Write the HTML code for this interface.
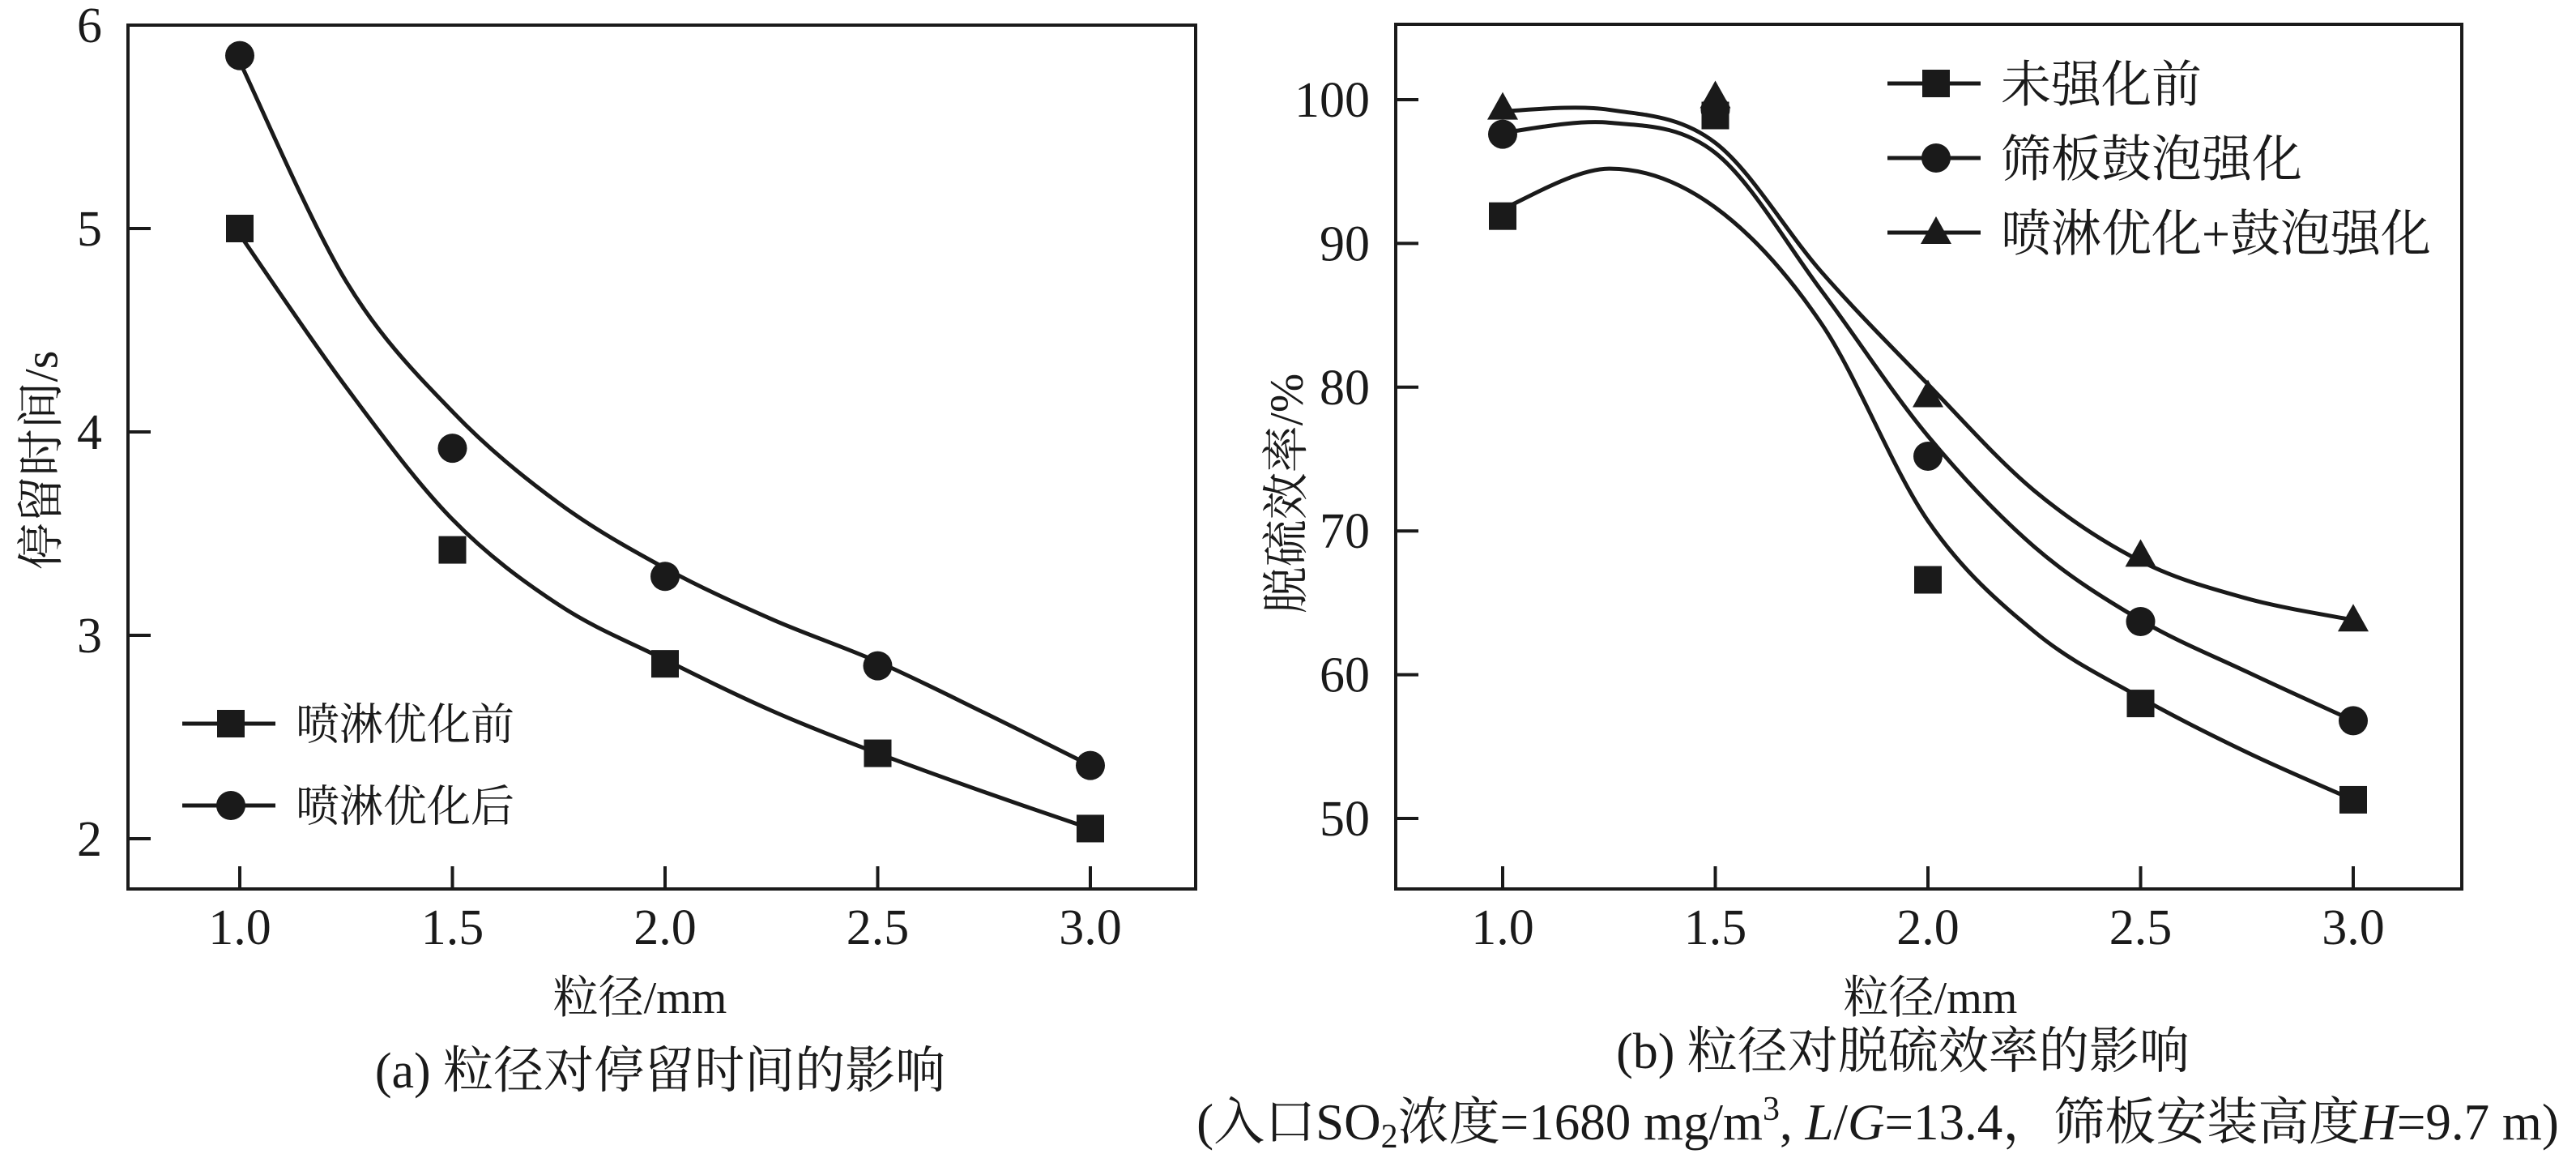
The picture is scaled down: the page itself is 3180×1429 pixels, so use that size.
<!DOCTYPE html>
<html><head><meta charset="utf-8">
<style>
html,body{margin:0;padding:0;background:#fff;}
svg{display:block;}
text{font-family:"Liberation Serif","Noto Serif CJK SC",serif;fill:#1a1a1a;}
</style></head>
<body>
<svg id="fig" width="3180" height="1429" viewBox="0 0 3180 1429" xmlns="http://www.w3.org/2000/svg">
<g id="left"></g>
<g id="right"></g>
<text x="51" y="568" font-size="58" text-anchor="middle" dominant-baseline="central" transform="rotate(-90 51 568)">停留时间/s</text>
<text x="790" y="1250" font-size="56" text-anchor="middle">粒径/mm</text>
<text x="815" y="1342" font-size="62" text-anchor="middle">(a) 粒径对停留时间的影响</text>
<text x="1588" y="609" font-size="58" text-anchor="middle" dominant-baseline="central" transform="rotate(-90 1588 609)">脱硫效率/%</text>
<text x="2383" y="1250" font-size="56" text-anchor="middle">粒径/mm</text>
<text x="2349" y="1318" font-size="62" text-anchor="middle">(b) 粒径对脱硫效率的影响</text>
<text x="2318" y="1406" font-size="63" text-anchor="middle">(入口SO<tspan font-size="42" dy="10">2</tspan><tspan dy="-10">浓度=1680 mg/m</tspan><tspan font-size="42" dy="-24">3</tspan><tspan dy="24">, </tspan><tspan font-style="italic">L</tspan>/<tspan font-style="italic">G</tspan>=13.4，筛板安装高度<tspan font-style="italic">H</tspan>=9.7 m)</text>
</svg>
<script>
// ---- Chart A data ----
const xCatsA = [1.0, 1.5, 2.0, 2.5, 3.0];
const beforeA = [5.0, 3.42, 2.86, 2.42, 2.05];
const afterA = [5.85, 3.92, 3.29, 2.85, 2.36];
const fitXA = [1.0, 1.25, 1.5, 1.75, 2.0, 2.25, 2.5, 2.75, 3.0];
const fitBeforeA = [4.97, 4.22, 3.57, 3.15, 2.88, 2.63, 2.42, 2.23, 2.05];
const fitAfterA = [5.82, 4.74, 4.10, 3.65, 3.33, 3.08, 2.87, 2.62, 2.36];
const yTicksA = [2, 3, 4, 5, 6];
const xTickLabels = ["1.0", "1.5", "2.0", "2.5", "3.0"];
// ---- Chart B data ----
const xCatsB = [1.0, 1.5, 2.0, 2.5, 3.0];
const noEnhB = [91.9, 98.9, 66.6, 58.0, 51.3];
const sieveB = [97.6, 99.3, 75.2, 63.7, 56.8];
const sprayB = [99.4, 100.2, 79.4, 68.3, 63.8];
const fitXB = [1.0, 1.25, 1.5, 1.75, 2.0, 2.25, 2.5, 2.75, 3.0];
const fitNoEnhB = [92.4, 95.2, 92.5, 84.4, 70.7, 63.0, 58.4, 54.6, 51.3];
const fitSieveB = [97.7, 98.4, 96.3, 86.7, 76.6, 68.9, 63.8, 60.2, 56.8];
const fitSprayB = [99.2, 99.3, 97.0, 88.0, 80.2, 72.8, 67.9, 65.3, 63.8];
const yTicksB = [50, 60, 70, 80, 90, 100];

const NS = "http://www.w3.org/2000/svg";
function mk(parent, tag, attrs) {
  const el = document.createElementNS(NS, tag);
  for (const k in attrs) el.setAttribute(k, attrs[k]);
  parent.appendChild(el);
  return el;
}
function smoothPath(pts) {
  let d = "M" + pts[0][0] + "," + pts[0][1];
  for (let i = 0; i < pts.length - 1; i++) {
    const p0 = pts[i - 1] || pts[i], p1 = pts[i], p2 = pts[i + 1], p3 = pts[i + 2] || p2;
    const c1x = p1[0] + (p2[0] - p0[0]) / 6, c1y = p1[1] + (p2[1] - p0[1]) / 6;
    const c2x = p2[0] - (p3[0] - p1[0]) / 6, c2y = p2[1] - (p3[1] - p1[1]) / 6;
    d += " C" + c1x + "," + c1y + " " + c2x + "," + c2y + " " + p2[0] + "," + p2[1];
  }
  return d;
}
function marker(g, type, cx, cy) {
  let el;
  if (type === "square") el = mk(g, "rect", {x: cx - 17, y: cy - 17, width: 34, height: 34, fill: "#1a1a1a"});
  else if (type === "circle") el = mk(g, "circle", {cx: cx, cy: cy, r: 18, fill: "#1a1a1a"});
  else el = mk(g, "polygon", {points: (cx) + "," + (cy - 20) + " " + (cx - 19) + "," + (cy + 14) + " " + (cx + 19) + "," + (cy + 14), fill: "#1a1a1a"});
  return el;
}

function drawChart(gId, cfg) {
  const g = document.getElementById(gId);
  const X = v => cfg.x1px + (v - 1.0) * cfg.xUnit;
  const Y = v => cfg.yRefPx + (cfg.yRef - v) * cfg.yUnit;
  const frame = mk(g, "rect", {x: cfg.left, y: cfg.top, width: cfg.right - cfg.left, height: cfg.bottom - cfg.top, fill: "none", stroke: "#1a1a1a", "stroke-width": 4});
  
  
  cfg.yTicks.forEach(t => {
    const y = Y(t);
    const tk = mk(g, "line", {x1: cfg.left, x2: cfg.left + 28, y1: y, y2: y, stroke: "#1a1a1a", "stroke-width": 4});
    
    
    const tl = mk(g, "text", {x: cfg.left - 32, y: y + 21, "font-size": 62, "text-anchor": "end"});
    tl.textContent = String(t);
    
    
  });
  cfg.xCats.forEach((c, i) => {
    const x = X(c);
    const tk = mk(g, "line", {x1: x, x2: x, y1: cfg.bottom, y2: cfg.bottom - 28, stroke: "#1a1a1a", "stroke-width": 4});
    
    
    const tl = mk(g, "text", {x: x, y: cfg.bottom + 68, "font-size": 62, "text-anchor": "middle"});
    tl.textContent = xTickLabels[i];
    
    
  });
  cfg.series.forEach(s => {
    const pts = cfg.fitX.map((xv, i) => [X(xv), Y(s.fit[i])]);
    const p = mk(g, "path", {d: smoothPath(pts), fill: "none", stroke: "#1a1a1a", "stroke-width": 5});
    
    
    cfg.xCats.forEach((c, i) => {
      const m = marker(g, s.type, X(c), Y(s.vals[i]));
      
      
    });
  });
  cfg.series.forEach((s, i) => {
    const ly = cfg.legY + i * cfg.legStep;
    const ln = mk(g, "line", {x1: cfg.legX, x2: cfg.legX + 115, y1: ly, y2: ly, stroke: "#1a1a1a", "stroke-width": 5});
    
    
    const m = marker(g, s.type, cfg.legX + 60, ly);
    
    
    const t = mk(g, "text", {x: cfg.legX + 140, y: ly + cfg.legFont * 0.36, "font-size": cfg.legFont});
    t.textContent = s.label;
    
    
  });
}

drawChart("left", {
  left: 158, right: 1476, top: 31, bottom: 1097,
  x1px: 296, xUnit: 525, yRef: 6, yRefPx: 31, yUnit: 251,
  yTicks: yTicksA, xCats: xCatsA, fitX: fitXA,
  legX: 225, legY: 893, legStep: 101, legFont: 54,
  series: [
    {name: "before-spray-opt", label: "喷淋优化前", type: "square", vals: beforeA, fit: fitBeforeA},
    {name: "after-spray-opt", label: "喷淋优化后", type: "circle", vals: afterA, fit: fitAfterA}
  ]
});
drawChart("right", {
  left: 1723, right: 3039, top: 30, bottom: 1097,
  x1px: 1855, xUnit: 525, yRef: 100, yRefPx: 123, yUnit: 17.74,
  yTicks: yTicksB, xCats: xCatsB, fitX: fitXB,
  legX: 2330, legY: 103, legStep: 92, legFont: 62,
  series: [
    {name: "no-enhancement", label: "未强化前", type: "square", vals: noEnhB, fit: fitNoEnhB},
    {name: "sieve-bubbling", label: "筛板鼓泡强化", type: "circle", vals: sieveB, fit: fitSieveB},
    {name: "spray-plus-bubbling", label: "喷淋优化+鼓泡强化", type: "triangle", vals: sprayB, fit: fitSprayB}
  ]
});
</script>
</body></html>
